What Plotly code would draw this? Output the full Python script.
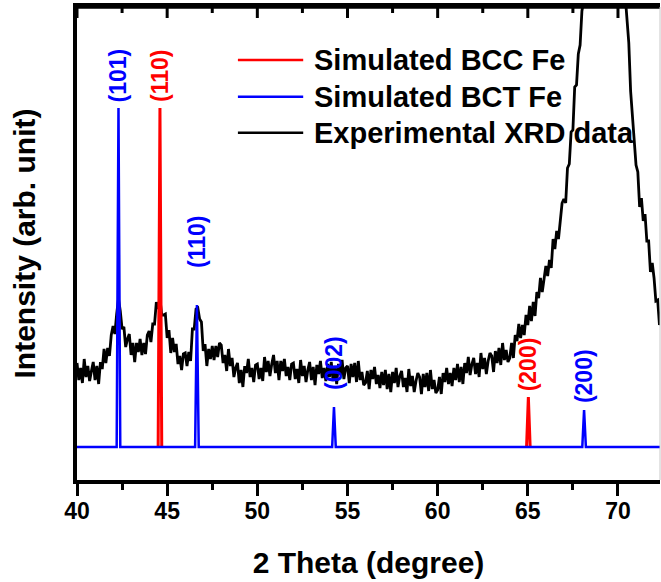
import numpy as np
import plotly.graph_objects as go

# ---------------- data ----------------
# simulated peak positions (2theta, degree) and intensities (arb.)
bcc_pos = [44.60, 65.03]
bcc_int = [339, 50]
bcc_lab = ["(110)", "(200)"]
bcc_lab_y = [343, 54]

bct_pos = [42.30, 46.65, 54.25, 68.12]
bct_int = [339, 142, 40, 37]
bct_lab = ["(101)", "(110)", "(002)", "(200)"]
bct_lab_y = [343, 177, 55, 42]

# experimental XRD data, 40.0 .. 72.4 in steps of 0.1 degree
exp_start, exp_step = 40.0, 0.1
exp_int = [
    84, 67, 79, 64, 88, 70, 81, 66, 76, 85,
    67, 81, 63, 85, 78, 98, 84, 99, 91, 112,
    121, 113, 133, 148, 136, 118, 120, 100, 108, 113,
    92, 104, 85, 104, 95, 108, 92, 104, 93, 112,
    116, 105, 123, 123, 145, 138, 148, 132, 132, 133,
    109, 117, 94, 109, 95, 103, 83, 91, 77, 93,
    94, 81, 95, 86, 118, 118, 138, 139, 128, 125,
    96, 103, 81, 98, 88, 101, 87, 101, 90, 104,
    102, 84, 92, 76, 98, 81, 89, 70, 79, 84,
    64, 77, 60, 81, 74, 88, 70, 79, 65, 82,
    83, 68, 79, 66, 90, 75, 86, 71, 83, 92,
    74, 86, 67, 86, 76, 88, 71, 80, 67, 83,
    84, 68, 78, 64, 87, 71, 81, 65, 77, 85,
    67, 80, 62, 82, 73, 86, 69, 79, 66, 83,
    70, 85, 66, 81, 63, 83, 72, 87, 68, 79,
    81, 64, 83, 70, 84, 65, 86, 67, 75, 62,
    64, 76, 58, 77, 68, 80, 63, 72, 59, 75,
    62, 77, 58, 73, 55, 75, 64, 79, 60, 71,
    76, 60, 69, 55, 78, 61, 71, 55, 66, 74,
    70, 53, 73, 60, 74, 56, 77, 58, 67, 54,
    57, 70, 53, 74, 65, 79, 63, 74, 61, 79,
    67, 83, 65, 80, 63, 84, 74, 90, 72, 83,
    89, 73, 84, 70, 94, 78, 89, 73, 86, 94,
    91, 75, 96, 84, 99, 82, 104, 87, 97, 85,
    89, 104, 89, 112, 106, 123, 109, 122, 112, 132,
    122, 141, 126, 145, 131, 155, 149, 169, 155, 171,
    181, 171, 187, 179, 208, 198, 216, 208, 228, 244,
    248, 244, 279, 283, 315, 317, 360, 362, 393, 402,
    436, 446, 470, 495, 520, 545, 565, 585, 600, 612,
    620, 626, 630, 631, 629, 624, 616, 606, 592, 575,
    555, 530, 505, 475, 452, 430, 404, 356, 334, 306,
    282, 275, 240, 249, 226, 233, 206, 206, 175, 184,
    169, 146, 147, 122, 135,
]
exp_x = np.round(exp_start + exp_step * np.arange(len(exp_int)), 2)

x_min, x_max = 40.0, 72.33
y_min, y_max = -33, 440
x_ticks = [40, 45, 50, 55, 60, 65, 70]
x_minor = [t + 2.5 for t in x_ticks if t + 2.5 < x_max]

legend_names = ["Simulated BCC Fe", "Simulated BCT Fe", "Experimental XRD data"]
RED, BLUE, BLACK = "#ff0000", "#0000ff", "#000000"
FONT = "Liberation Sans, Arial, sans-serif"
half_w = 0.1  # half base width of simulated peaks (style)
PLOT_H = 582 - 7 - 102  # plot area height in px


def stick_profile(pos, inten, baseline=True):
    xs, ys = ([x_min], [0]) if baseline else ([], [])
    for p, h in sorted(zip(pos, inten)):
        xs += [p - half_w, p, p + half_w]
        ys += [0, h, 0]
        if not baseline:
            xs.append(None)
            ys.append(None)
    if baseline:
        xs.append(x_max + 1)
        ys.append(0)
    return xs, ys


fig = go.Figure()
fig.add_trace(go.Scatter(x=exp_x, y=exp_int, mode="lines",
                         line=dict(color=BLACK, width=2.8), name=legend_names[2],
                         showlegend=False))
bx, by = stick_profile(bcc_pos, bcc_int, baseline=False)
fig.add_trace(go.Scatter(x=bx, y=by, mode="lines", line=dict(color=RED, width=3),
                         name=legend_names[0], showlegend=False, connectgaps=False))
tx, ty = stick_profile(bct_pos, bct_int)
fig.add_trace(go.Scatter(x=tx, y=ty, mode="lines", line=dict(color=BLUE, width=2.5),
                         name=legend_names[1], showlegend=False))

# peak labels
for pos, labs, ys, col in [(bcc_pos, bcc_lab, bcc_lab_y, RED),
                           (bct_pos, bct_lab, bct_lab_y, BLUE)]:
    for p, t, yy in zip(pos, labs, ys):
        fig.add_annotation(x=p, y=yy, text=t, textangle=-90, showarrow=False,
                           xanchor="center", yanchor="bottom",
                           font=dict(family=FONT, size=23, color=col, weight="bold"))

# manual legend
leg_y = [0.888, 0.810, 0.734]
leg_cols = [RED, BLUE, BLACK]
for yy, col, name in zip(leg_y, leg_cols, legend_names):
    fig.add_shape(type="line", xref="paper", yref="paper", x0=0.276, x1=0.388,
                  y0=yy, y1=yy, line=dict(color=col, width=2.5))
    fig.add_annotation(xref="paper", yref="paper", x=0.403, y=yy, text=name,
                       showarrow=False, xanchor="left", yanchor="middle",
                       font=dict(family=FONT, size=29, color=BLACK, weight="bold"))

# top frame line with inward ticks (mirrors the bottom axis ticks)
fig.add_shape(type="line", xref="paper", yref="paper", x0=-0.003, x1=1, y0=1, y1=1,
              line=dict(color=BLACK, width=3.5), layer="above")
for tv, ln in [(v, 11) for v in x_ticks] + [(v, 6) for v in x_minor]:
    fig.add_shape(type="line", xref="x", yref="paper", x0=tv, x1=tv,
                  y0=1, y1=1 - ln / PLOT_H, line=dict(color=BLACK, width=3),
                  layer="above")

fig.add_shape(type="line", xref="paper", yref="paper", x0=1, x1=1, y0=0, y1=1,
              line=dict(color="#c8c8c8", width=1))

fig.update_layout(
    width=661, height=582,
    margin=dict(l=77, r=1, t=7, b=102),
    paper_bgcolor="white", plot_bgcolor="white",
    showlegend=False,
    xaxis=dict(range=[x_min, x_max], tickmode="array", tickvals=x_ticks,
               automargin=False, mirror=True,
               ticks="outside", ticklen=12, tickwidth=3, tickcolor=BLACK,
               ticklabelstandoff=-4,
               showline=True, linewidth=3.5, linecolor=BLACK, showgrid=False,
               zeroline=False,
               minor=dict(dtick=2.5, tick0=40, ticks="outside", ticklen=6,
                          tickwidth=3, tickcolor=BLACK, showgrid=False),
               tickfont=dict(family=FONT, size=23, color=BLACK, weight="bold"),
               title=dict(text="2 Theta (degree)", standoff=30,
                          font=dict(family=FONT, size=30, color=BLACK, weight="bold"))),
    yaxis=dict(range=[y_min, y_max], showticklabels=False, ticks="",
               automargin=False,
               showline=True, linewidth=3.5, linecolor=BLACK, showgrid=False,
               zeroline=False,
               title=dict(text="Intensity (arb. unit)", standoff=30,
                          font=dict(family=FONT, size=30, color=BLACK, weight="bold"))),
)

fig.write_html("out.html",
               config={"displayModeBar": False},
               post_script="document.body.style.margin='0';"
                           "document.body.style.overflow='hidden';")
